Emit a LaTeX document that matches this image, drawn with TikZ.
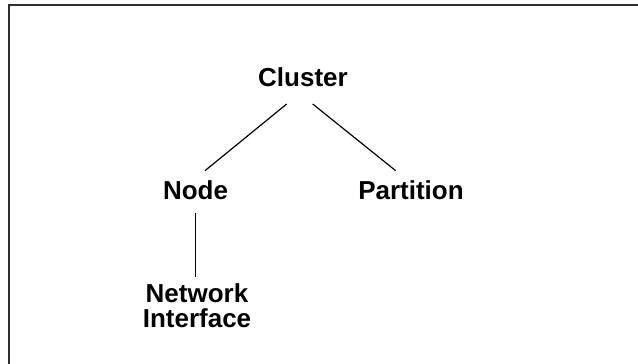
\documentclass[tikz,border=0pt]{standalone}
\usepackage{fontspec}
\setmainfont{Liberation Sans}
\begin{document}
\begin{tikzpicture}[x=1pt, y=1pt,
    label/.style={font=\fontsize{26}{25}\selectfont\bfseries, inner sep=0pt, anchor=base, align=center},
    link/.style={line width=1.2pt, black}]
    %------------Marco----------
    \useasboundingbox (0,0) rectangle (638,364);
    \draw[line width=2pt, black!82] (639,358.5) -- (8.5,358.5) -- (8.5,-1);
    %------------Nodos----------
    \node[label] (cluster)   at (303,277) {Cluster};
    \node[label] (node)      at (195.5,164) {Node};
    \node[label] (partition) at (411,164) {Partition};
    \node[label, anchor=north] (network) at (197,81) {Network\\Interface};
    %------------Lineas---------
    \draw[link] ([shift={(-16.3,-17)}]cluster.base) -- ([shift={(9.5,29.3)}]node.base);
    \draw[link] ([shift={(9.7,-17)}]cluster.base) -- ([shift={(-15.3,29.3)}]partition.base);
    \draw[link] ([shift={(0.2,-13)}]node.base) -- ([xshift=-1.3pt, yshift=6.3pt]network.north);
\end{tikzpicture}
\end{document}
